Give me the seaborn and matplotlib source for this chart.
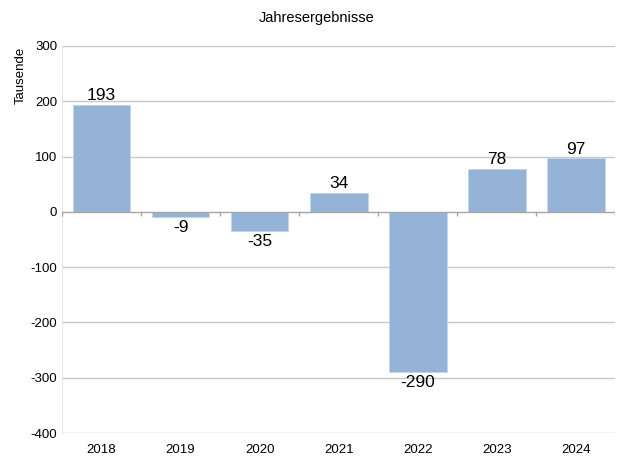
import matplotlib
matplotlib.use("Agg")
import matplotlib.pyplot as plt
import seaborn as sns
import numpy as np
import pandas as pd

years = ["2018", "2019", "2020", "2021", "2022", "2023", "2024"]
values = [193, -9, -35, 34, -290, 78, 97]
yticks = [-400, -300, -200, -100, 0, 100, 200, 300]

sns.set_style("white")
plt.rcParams['font.family'] = ['Liberation Sans', 'DejaVu Sans']
plt.rcParams['axes.unicode_minus'] = False
plt.rcParams['text.color'] = "black"
plt.rcParams['xtick.color'] = "black"
plt.rcParams['ytick.color'] = "black"
plt.rcParams['axes.labelcolor'] = "black"

df = pd.DataFrame({"Jahr": years, "Wert": values})

fig = plt.figure(figsize=(6.33, 4.57), dpi=100)
ax = fig.add_axes([0.098, 0.0525, 0.874, 0.847])

sns.barplot(data=df, x="Jahr", y="Wert", color="#95B3D7", saturation=1,
            width=0.73, ax=ax, zorder=3, edgecolor="#C5D6EA", linewidth=0.6)

ax.set_ylim(-400, 300)
ax.set_yticks(yticks)
ax.set_xlim(-0.5, len(years) - 0.5)
for t in yticks:
    if t != 0:
        ax.axhline(t, color="#C8C8C8", lw=1, zorder=1)
ax.axhline(0, color="#A6A6A6", lw=1, zorder=4)
bounds = np.arange(len(years) + 1) - 0.5
ax.vlines(bounds, -8, 0, color="#A6A6A6", lw=1, zorder=4)

for i, v in enumerate(values):
    if v >= 0:
        ax.text(i, v + 3, str(v), ha="center", va="bottom", fontsize=12.5)
    else:
        ax.text(i, v - 5, str(v), ha="center", va="top", fontsize=12.5)

for s in ["top", "right", "bottom"]:
    ax.spines[s].set_visible(False)
ax.spines["left"].set_color("#E6E6E6")
ax.tick_params(axis="both", length=0, labelsize=9.5)
ax.tick_params(axis="x", pad=8)
ax.set_xlabel("")
ax.set_ylabel("Tausende", fontsize=9.5)
ax.yaxis.set_label_coords(-0.064, 0.925)
fig.suptitle("Jahresergebnisse", y=0.975, fontsize=10.5)

fig.savefig("out.png", dpi=100)
plt.close()
